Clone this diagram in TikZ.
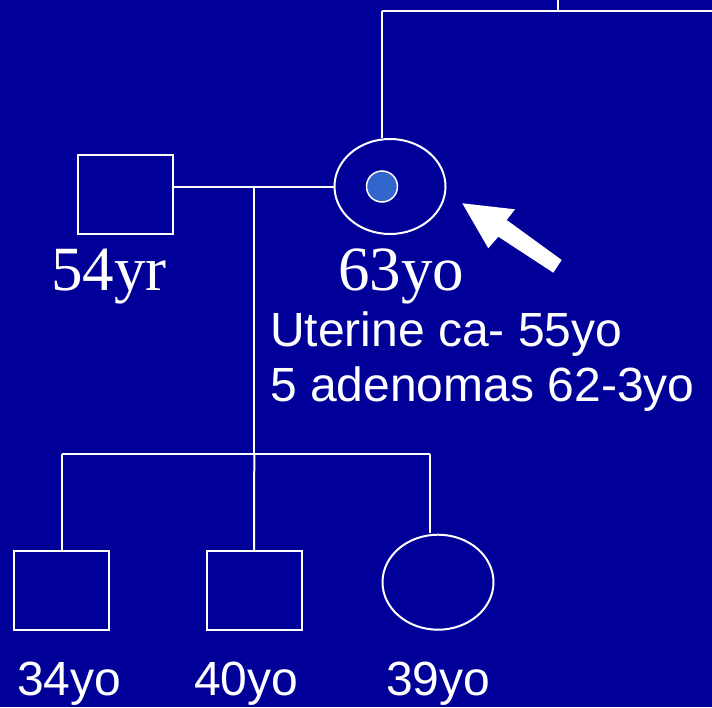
\documentclass[tikz,border=0pt]{standalone}
\usepackage{fontspec}
\setmainfont{Liberation Serif}
\setsansfont{Liberation Sans}
\usetikzlibrary{shapes.geometric}
\definecolor{bg}{HTML}{000099}
\definecolor{dot}{HTML}{3366CC}
\tikzset{
  line/.style={draw=white, line width=2pt},
  male/.style={rectangle, draw=white, line width=2pt, minimum width=95pt, minimum height=79pt, inner sep=0pt},
  female/.style={ellipse, draw=white, line width=2pt, minimum width=111pt, minimum height=95pt, inner sep=0pt},
  serifage/.style={text=white, inner sep=0pt, anchor=base west, font=\fontsize{63}{70}\selectfont\rmfamily},
  sansage/.style={text=white, inner sep=0pt, anchor=base west, font=\fontsize{48}{54}\selectfont\sffamily},
}
\begin{document}
\begin{tikzpicture}[x=1pt,y=-1pt]
\fill[bg] (0,0) rectangle (712,707);
\useasboundingbox (0,0) rectangle (712,707);
% top
\coordinate (topL) at (382,11);
\coordinate (topR) at (712,11);
\coordinate (topUp) at (558,0);
\coordinate (topJ) at (558,11);
% parents
\node[male] (father) at (125.8,194.8) {};
\node[female] (mother) at (390,186.5) {};
\node[circle, draw=white, line width=1.5pt, fill=dot, minimum size=31pt, inner sep=0pt] (dotc) at (382,186.5) {};
% children
\node[male] (s1) at (61.7,590.3) {};
\node[male] (s2) at (254,590.3) {};
\node[female] (d1) at (438,582.2) {};
% junctions
\coordinate (mid) at (254.3,187);
\coordinate (sib) at (254.3,454.3);
\coordinate (sibL) at (61.7,454.3);
\coordinate (sibR) at (430,454.3);
% lines
\draw[line] (topL) -- (topR);
\draw[line] (topUp) -- (topJ);
\draw[line] (topL) -- (topL |- mother.north);
\draw[line] (mid -| father.east) -- (mid -| mother.west);
\draw[line] (mid) -- (sib);
\draw[line] (sibL) -- (sibR);
\draw[line] (sibL) -- (s1.north);
\draw[line] (sib) -- (s2.north);
\draw[line] (sibR) -- ([yshift=0.5pt]sibR |- d1.north);
% arrow
\fill[white] (462.3,203.3) -- (515,209.3) -- (506.7,220) -- (561.7,260) -- (553.3,272.7) -- (498.3,236.7) -- (488.3,248.3) -- cycle;
% texts
\node[serifage] (t1) at (51,290) {54yr};
\node[serifage] (t2) at (338,290) {63yo};
\node[sansage] (t3) at (270,346.5) {Uterine ca- 55yo};
\node[sansage] (t4) at (270,401.5) {5 adenomas 62-3yo};
\node[sansage] (t5) at (17,695) {34yo};
\node[sansage] (t6) at (194,695) {40yo};
\node[sansage] (t7) at (386,695) {39yo};
\end{tikzpicture}
\end{document}
